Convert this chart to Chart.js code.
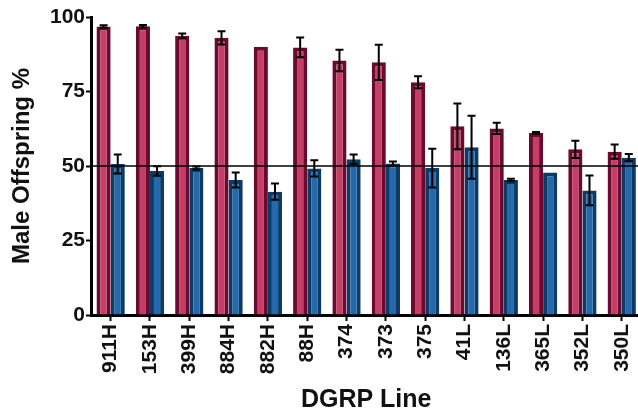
<!DOCTYPE html>
<html>
<head>
<meta charset="utf-8">
<script src="https://cdn.jsdelivr.net/npm/chart.js@4.4.1/dist/chart.umd.min.js"></script>
<style>
  html, body { margin: 0; padding: 0; background: #fff; overflow: hidden; }
  #wrap { width: 650px; height: 416px; }
</style>
</head>
<body>
<div id="wrap"><canvas id="idGrafica" width="650" height="416"></canvas></div>
<script>
// lineas DGRP
var lineas = ['911H','153H','399H','884H','882H','88H','374','373','375','41L','136L','365L','352L','350L'];
// serie roja (media y error)
var rojo    = [96.8, 96.9, 93.7, 93.0, 90.0, 89.8, 85.4, 84.8, 78.1, 63.3, 62.6, 61.1, 55.6, 54.8];
var rojoErr = [0.4, 0.4, 0.8, 2.2, 0, 3.3, 3.6, 5.9, 2.0, 7.7, 1.9, 0.3, 2.9, 2.4];
// serie azul (media y error)
var azul    = [50.7, 48.3, 49.3, 45.3, 41.4, 49.2, 52.3, 50.8, 49.3, 56.3, 45.3, 47.8, 41.8, 52.8];
var azulErr = [3.2, 1.6, 0.5, 2.5, 2.7, 2.7, 1.6, 0.7, 6.5, 10.6, 0.4, 0, 5.0, 1.2];
var ticksY  = [0, 25, 50, 75, 100];
var lineaRef = 50;

var fuente = '"Liberation Sans", Arial, Helvetica, sans-serif';

// linea de 50% y barras de error
var pluginErrores = {
    id: 'errores',
    afterDatasetsDraw: function(chart){
        var ctx = chart.ctx;
        var y = chart.scales.y;
        var area = chart.chartArea;
        ctx.save();
        // linea horizontal
        ctx.strokeStyle = '#000';
        ctx.lineWidth = 1.5;
        ctx.beginPath();
        ctx.moveTo(area.left, y.getPixelForValue(lineaRef));
        ctx.lineTo(area.right, y.getPixelForValue(lineaRef));
        ctx.stroke();
        // errores
        var errores = [rojoErr, azulErr];
        ctx.lineWidth = 2;
        chart.data.datasets.forEach(function(ds, d){
            var meta = chart.getDatasetMeta(d);
            meta.data.forEach(function(bar, i){
                var e = errores[d][i];
                if (!e) return;
                var v = ds.data[i];
                var yTop = y.getPixelForValue(v + e);
                var yBot = y.getPixelForValue(v - e);
                ctx.beginPath();
                ctx.moveTo(bar.x, yTop);
                ctx.lineTo(bar.x, yBot);
                ctx.moveTo(bar.x - 4, yTop);
                ctx.lineTo(bar.x + 4, yTop);
                ctx.moveTo(bar.x - 4, yBot);
                ctx.lineTo(bar.x + 4, yBot);
                ctx.stroke();
            });
        });
        ctx.restore();
    }
};

var ctx = document.getElementById('idGrafica').getContext('2d');
var mychart = new Chart(ctx, {
    type: 'bar',
    data: {
        labels: lineas,
        datasets: [
            {
                label: 'rojo',
                data: rojo,
                backgroundColor: '#c43e66',
                borderColor: '#6a0a2e',
                borderWidth: 4
            },
            {
                label: 'azul',
                data: azul,
                backgroundColor: '#2469aa',
                borderColor: '#0e3b66',
                borderWidth: 4
            }
        ]
    },
    options: {
        responsive: false,
        animation: false,
        layout: { padding: { top: 17, right: 2, left: 0, bottom: 0 } },
        datasets: { bar: { categoryPercentage: 0.72, barPercentage: 1.0 } },
        plugins: { legend: { display: false }, tooltip: { enabled: false } },
        scales: {
            x: {
                offset: true,
                grid: { offset: false, drawOnChartArea: false, drawTicks: true, tickLength: 6, tickWidth: 2, tickColor: '#000' },
                border: { display: true, color: '#000', width: 3 },
                ticks: { minRotation: 90, maxRotation: 90, padding: 3, color: '#111', font: { family: fuente, size: 21, weight: 'bold' } },
                title: { display: true, text: 'DGRP Line', color: '#111', padding: { top: 0, bottom: 1 }, font: { family: fuente, size: 25, weight: 'bold' } },
                afterFit: function(scale){ scale.height = 101; }
            },
            y: {
                min: 0,
                max: 100,
                afterBuildTicks: function(scale){ scale.ticks = ticksY.map(function(v){ return { value: v }; }); },
                grid: { drawOnChartArea: false, drawTicks: true, tickLength: 5, tickWidth: 2, tickColor: '#000' },
                border: { display: true, color: '#000', width: 3 },
                ticks: { padding: 1, color: '#111', font: { family: fuente, size: 21, weight: 'bold' } },
                title: { display: true, text: 'Male Offspring %', color: '#111', padding: { top: 8, bottom: 0 }, font: { family: fuente, size: 24, weight: 'bold' } },
                afterFit: function(scale){ scale.width = 91; }
            }
        }
    },
    plugins: [pluginErrores]
});
</script>
</body>
</html>
